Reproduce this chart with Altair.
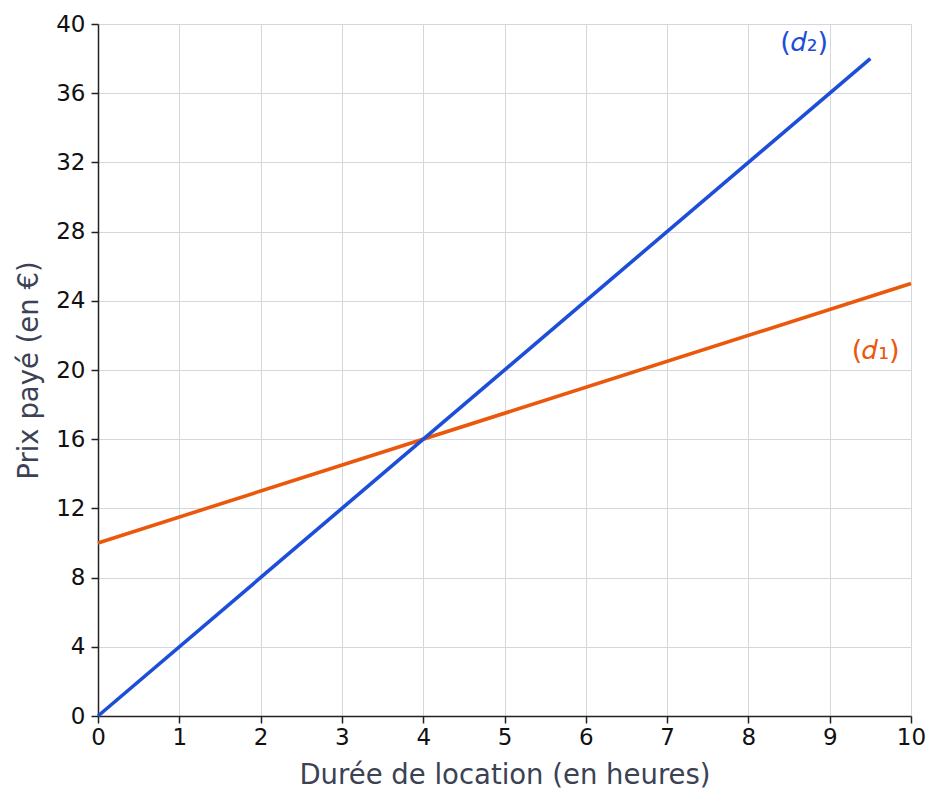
import altair as alt
import pandas as pd

series = ["d1", "d1", "d2", "d2"]
xs = [0, 10, 0, 9.5]
ys = [10, 25, 0, 38]
label_text = ["(𝑑₁)", "(𝑑₂)"]
label_series = ["d1", "d2"]
label_x = [9.86, 8.98]
label_y = [21.1, 38.9]

lines = pd.DataFrame({"serie": series, "x": xs, "y": ys})
labels = pd.DataFrame({"serie": label_series, "x": label_x, "y": label_y, "t": label_text})

color = alt.Scale(domain=["d1", "d2"], range=["#ea580c", "#1d4ed8"])

xaxis = alt.Axis(values=list(range(0, 11)), title="Durée de location (en heures)", format="d",
                 grid=True, gridColor="#d4d7dd", domainColor="#222", domainWidth=1.5,
                 tickColor="#222", tickWidth=1.5, tickSize=7, labelFontSize=23,
                 labelColor="#111", titleFontSize=27.5, titleColor="#3b4254",
                 titleFontWeight="normal", labelFlush=False, titlePadding=12, labelPadding=3)
yaxis = alt.Axis(values=list(range(0, 41, 2)), title="Prix payé (en €)",
                 labelExpr="datum.value % 4 === 0 ? datum.label : ''",
                 grid=True, gridColor="#d4d7dd", domainColor="#222", domainWidth=1.5,
                 tickColor="#222", tickWidth=1.5,
                 tickSize={"condition": {"test": "datum.value % 4 === 0", "value": 7}, "value": 3},
                 labelFontSize=23, labelColor="#111", titleFontSize=27.5, titleColor="#3b4254",
                 titleFontWeight="normal", labelFlush=False, titlePadding=12, labelPadding=6)

base = alt.Chart(lines).mark_line(strokeWidth=3.6).encode(
    x=alt.X("x:Q", scale=alt.Scale(domain=[0, 10], nice=False), axis=xaxis),
    y=alt.Y("y:Q", scale=alt.Scale(domain=[0, 40], nice=False), axis=yaxis),
    color=alt.Color("serie:N", scale=color, legend=None),
    detail="serie:N",
)

text = alt.Chart(labels).mark_text(align="right", baseline="middle", fontSize=27,
                                   font="DejaVu Sans").encode(
    x="x:Q", y="y:Q", text="t:N",
    color=alt.Color("serie:N", scale=color, legend=None),
)

chart = alt.layer(base, text).properties(
    width=813, height=692,
    autosize=alt.AutoSizeParams(type="none"),
    padding={"left": 90, "top": 16, "right": 24, "bottom": 84},
).configure_view(stroke=None).configure(font="DejaVu Sans")

chart.save("out.html", embed_options={"renderer": "svg", "actions": False})
